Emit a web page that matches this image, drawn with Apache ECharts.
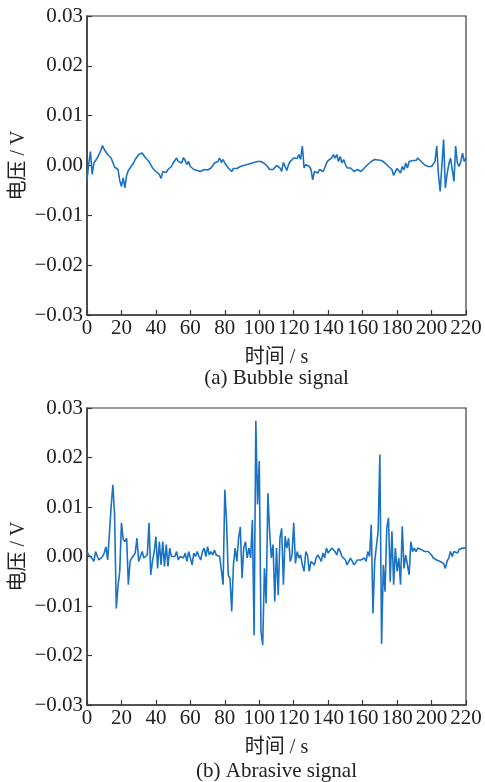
<!DOCTYPE html>
<html>
<head>
<meta charset="utf-8">
<script src="https://cdn.jsdelivr.net/npm/echarts@6/dist/echarts.min.js"></script>
<style>
html,body{margin:0;padding:0;background:#fff;}
#chart{width:485px;height:782px;}
</style>
</head>
<body>
<div id="chart"></div>
<script>
// time axis ticks (s)
const xTicks = [0, 20, 40, 60, 80, 100, 120, 140, 160, 180, 200, 220];
const yTicks = [-0.03, -0.02, -0.01, 0.00, 0.01, 0.02, 0.03];
const timeStep = 1; // s per sample

// (a) Bubble signal, voltage in V, one sample per second from 0 s to 220 s
const bubbleSignal = [
 -0.0029, 0.0003, 0.0028, -0.0018, 0.0005, 0.0008, 0.0015, 0.0018, 0.0030, 0.0040,
 0.0032, 0.0035, 0.0022, 0.0020, 0.0015, 0.0018, -0.0003, -0.0006, -0.0008, -0.0030,
 -0.0042, -0.0025, -0.0045, -0.0020, -0.0010, -0.0012, 0.0000, 0.0005, 0.0012, 0.0015,
 0.0022, 0.0018, 0.0025, 0.0020, 0.0015, 0.0018, 0.0008, 0.0012, -0.0005, -0.0008,
 -0.0012, -0.0010, -0.0018, -0.0026, -0.0012, -0.0008, -0.0014, -0.0008, -0.0006, -0.0002,
 0.0005, 0.0010, 0.0015, 0.0008, 0.0012, 0.0005, 0.0016, 0.0010, 0.0002, 0.0008,
 -0.0002, -0.0005, -0.0008, -0.0006, -0.0010, -0.0009, -0.0012, -0.0010, -0.0008, -0.0011,
 -0.0009, -0.0012, -0.0005, -0.0004, 0.0005, 0.0002, 0.0008, 0.0015, 0.0006, 0.0012,
 0.0005, 0.0002, -0.0005, -0.0008, -0.0012, -0.0006, -0.0010, -0.0006, -0.0005, -0.0002,
 -0.0004, 0.0000, 0.0002, 0.0002, 0.0006, 0.0004, 0.0008, 0.0006, 0.0009, 0.0008,
 0.0010, 0.0008, 0.0007, 0.0004, 0.0002, -0.0003, -0.0008, -0.0011, -0.0008, -0.0004,
 0.0000, 0.0002, -0.0005, -0.0012, 0.0006, -0.0002, -0.0010, 0.0002, 0.0008, 0.0006,
 0.0015, 0.0018, 0.0014, 0.0022, 0.0012, 0.0039, -0.0005, 0.0002, 0.0000, -0.0002,
 -0.0008, -0.0029, -0.0012, -0.0008, -0.0015, -0.0008, -0.0010, -0.0012, -0.0005, 0.0005,
 0.0010, 0.0012, 0.0015, 0.0022, 0.0015, 0.0022, 0.0008, 0.0018, 0.0005, 0.0012,
 0.0002, -0.0005, -0.0008, -0.0005, -0.0007, -0.0012, -0.0009, -0.0008, -0.0011, -0.0012,
 -0.0010, -0.0005, -0.0002, 0.0002, 0.0005, 0.0008, 0.0010, 0.0012, 0.0012, 0.0011,
 0.0010, 0.0010, 0.0009, 0.0005, 0.0002, -0.0002, -0.0005, -0.0008, -0.0020, -0.0012,
 -0.0006, -0.0010, -0.0015, -0.0002, -0.0009, 0.0005, -0.0005, 0.0008, 0.0005, 0.0010,
 0.0012, 0.0010, 0.0015, 0.0012, 0.0008, 0.0012, 0.0001, 0.0002, -0.0002, 0.0000,
 -0.0002, -0.0005, 0.0008, 0.0039, -0.0018, -0.0052, 0.0000, 0.0052, -0.0045, -0.0018,
 0.0002, 0.0015, -0.0008, -0.0032, 0.0039, 0.0005, -0.0002, 0.0008, 0.0025, 0.0008,
 0.0015
];

// (b) Abrasive signal, voltage in V, one sample per second from 0 s to 220 s
const abrasiveSignal = [
 0.0010, 0.0003, 0.0007, -0.0004, -0.0010, 0.0010, 0.0000, -0.0007, -0.0003, 0.0000,
 0.0007, 0.0020, -0.0007, 0.0045, 0.0100, 0.0145, 0.0085, -0.0105, -0.0060, -0.0030,
 0.0068, 0.0035, 0.0030, 0.0037, -0.0057, -0.0010, -0.0003, 0.0000, 0.0007, 0.0037,
 -0.0010, 0.0000, 0.0010, -0.0003, 0.0000, 0.0003, 0.0068, -0.0037, -0.0010, 0.0010,
 0.0040, -0.0024, 0.0030, -0.0017, 0.0030, -0.0020, 0.0024, -0.0020, 0.0017, 0.0000,
 0.0000, 0.0000, 0.0010, -0.0007, 0.0000, 0.0003, -0.0003, 0.0007, -0.0010, 0.0010,
 -0.0003, -0.0017, 0.0007, 0.0000, 0.0010, 0.0000, -0.0007, 0.0010, 0.0017, 0.0000,
 0.0020, 0.0003, 0.0010, 0.0003, 0.0013, 0.0003, 0.0007, 0.0000, 0.0003, -0.0057,
 0.0135, 0.0071, -0.0037, -0.0044, -0.0111, -0.0017, 0.0017, -0.0010, 0.0037, 0.0060,
 -0.0044, 0.0017, 0.0030, -0.0003, 0.0017, -0.0003, 0.0074, -0.0159, 0.0274, 0.0105,
 0.0193, -0.0152, -0.0179, -0.0024, -0.0095, 0.0128, 0.0051, -0.0003, 0.0024, -0.0091,
 0.0017, -0.0078, 0.0037, 0.0057, -0.0057, 0.0041, 0.0017, 0.0037, -0.0010, 0.0003,
 0.0068, -0.0014, 0.0010, -0.0003, 0.0003, -0.0017, -0.0030, 0.0010, 0.0003, -0.0030,
 -0.0010, -0.0007, -0.0017, -0.0003, 0.0003, -0.0003, -0.0010, 0.0007, -0.0003, 0.0017,
 0.0007, 0.0010, 0.0017, 0.0017, 0.0010, 0.0003, 0.0017, 0.0010, 0.0000, 0.0000,
 -0.0007, -0.0017, -0.0010, -0.0003, -0.0007, -0.0017, -0.0014, -0.0007, -0.0010, -0.0007,
 -0.0010, -0.0003, -0.0010, 0.0010, 0.0000, 0.0064, -0.0115, -0.0010, -0.0007, 0.0051,
 0.0206, -0.0176, -0.0017, -0.0071, 0.0057, 0.0078, -0.0051, 0.0051, -0.0057, 0.0017,
 -0.0030, -0.0003, -0.0057, 0.0061, -0.0024, 0.0003, -0.0017, -0.0037, 0.0030, 0.0010,
 0.0017, 0.0010, 0.0017, 0.0020, 0.0014, 0.0017, 0.0010, 0.0014, 0.0010, 0.0007,
 0.0003, -0.0003, 0.0000, -0.0007, -0.0003, -0.0010, -0.0007, -0.0014, -0.0024, -0.0010,
 -0.0003, 0.0010, 0.0000, 0.0010, 0.0014, 0.0007, 0.0014, 0.0017, 0.0017, 0.0020,
 0.0017
];

const xName = '时间 / s';
const yName = '电压 / V';
const subTitles = ['(a) Bubble signal', '(b) Abrasive signal'];

const FONT = '"Liberation Serif", "Times New Roman", "DejaVu Serif", "Noto Sans CJK SC", serif';
const AXIS_COLOR = '#3a3a3a';
const LINE_COLOR = '#1a72c2';

const toPairs = arr => arr.map((v, i) => [i * timeStep, v]);
const yFmt = v => {
  const s = Math.abs(v).toFixed(2);
  return (v < -1e-9 ? '\u2212' : '') + s;
};

const grids = [
  {left: 87, right: 19, top: 16, height: 299, show: true, borderColor: AXIS_COLOR, borderWidth: 1.2, backgroundColor: 'transparent', containLabel: false, outerBoundsMode: 'none'},
  {left: 87, right: 19, top: 408, height: 297, show: true, borderColor: AXIS_COLOR, borderWidth: 1.2, backgroundColor: 'transparent', containLabel: false, outerBoundsMode: 'none'}
];

function xAxisFor(i) {
  return {
    type: 'value', gridIndex: i, min: xTicks[0], max: xTicks[xTicks.length - 1], interval: xTicks[1] - xTicks[0],
    name: xName, nameLocation: 'middle', nameGap: 33, nameMoveOverlap: false,
    nameTextStyle: {fontFamily: FONT, fontSize: 20, color: '#222'},
    axisLine: {show: true, onZero: false, lineStyle: {color: AXIS_COLOR, width: 1.5}},
    axisTick: {show: true, inside: true, length: 5, lineStyle: {color: AXIS_COLOR, width: 1.2}},
    axisLabel: {fontFamily: FONT, fontSize: 21, color: '#222', margin: 3, showMinLabel: true, showMaxLabel: true},
    splitLine: {show: false}
  };
}
function yAxisFor(i) {
  return {
    type: 'value', gridIndex: i, min: yTicks[0], max: yTicks[yTicks.length - 1], interval: 0.01,
    axisLine: {show: true, onZero: false, lineStyle: {color: AXIS_COLOR, width: 1.5}},
    axisTick: {show: true, inside: true, length: 5, lineStyle: {color: AXIS_COLOR, width: 1.2}},
    axisLabel: {fontFamily: FONT, fontSize: 21, color: '#222', margin: 4, formatter: yFmt, showMinLabel: true, showMaxLabel: true},
    splitLine: {show: false}
  };
}

const yNameText = (cy) => ({
  type: 'text', x: 19, y: cy, rotation: Math.PI / 2,
  style: {text: yName, font: '20px ' + FONT, fill: '#222', textAlign: 'center', textVerticalAlign: 'middle'}
});

const chart = echarts.init(document.getElementById('chart'), null, {renderer: 'canvas'});
chart.setOption({
  backgroundColor: '#fff',
  animation: false,
  grid: grids,
  xAxis: [xAxisFor(0), xAxisFor(1)],
  yAxis: [yAxisFor(0), yAxisFor(1)],
  series: [
    {type: 'line', xAxisIndex: 0, yAxisIndex: 0, data: toPairs(bubbleSignal), showSymbol: false, symbol: 'none',
     lineStyle: {color: LINE_COLOR, width: 1.6}},
    {type: 'line', xAxisIndex: 1, yAxisIndex: 1, data: toPairs(abrasiveSignal), showSymbol: false, symbol: 'none',
     lineStyle: {color: LINE_COLOR, width: 1.6}}
  ],
  graphic: [
    yNameText(165.5),
    yNameText(556.5),
    {type: 'text', x: 276.5, y: 378, style: {text: subTitles[0], font: '21px ' + FONT, fill: '#222', textAlign: 'center', textVerticalAlign: 'middle'}},
    {type: 'text', x: 276.5, y: 771, style: {text: subTitles[1], font: '21px ' + FONT, fill: '#222', textAlign: 'center', textVerticalAlign: 'middle'}}
  ]
});
</script>
</body>
</html>
